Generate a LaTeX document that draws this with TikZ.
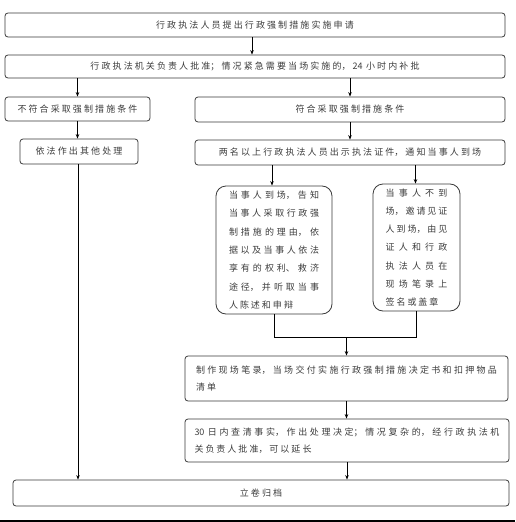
\documentclass[tikz,border=0pt]{standalone}
\usepackage{fontspec}
\setmainfont{Noto Sans CJK SC}
\usetikzlibrary{arrows.meta,calc}
\XeTeXlinebreaklocale "zh"
\XeTeXlinebreakskip=2pt plus 3pt minus 1pt
\definecolor{boxc}{HTML}{3A3A3A}
\definecolor{txtc}{HTML}{3C3C3C}
\newcommand\ftext{\fontsize{9}{17}\selectfont}
\newcommand\fone{\fontsize{9}{17}\selectfont\XeTeXlinebreakskip=2.1pt\relax}
\newcommand\ftall{\fontsize{9}{18.3}\selectfont}
\newcommand\lastfill{\hspace*{\fill}}
\tikzset{
  box/.style={draw=boxc, line width=0.8pt, rounded corners=3pt, inner sep=0pt,
    font=\ftext, text=txtc},
  one/.style={box, align=center, text width=#1, font=\fone},
  tall/.style={box, rounded corners=10pt, align=justify, font=\ftall},
  wide/.style={box, align=justify},
  arr/.style={-{Stealth[length=4.5pt,width=3.5pt]}, line width=0.7pt},
  ln/.style={line width=0.7pt},
}
\begin{document}
\begin{tikzpicture}[x=1pt,y=-1pt]
\useasboundingbox (0,0) rectangle (515,522);
\node[one=480, minimum width=500, minimum height=24] (b1) at (255,25) {行政执法人员提出行政强制措施实施申请};
\node[one=480, minimum width=500, minimum height=23] (b2) at (255,66.5) {行政执法机关负责人批准；情况紧急需要当场实施的，24\hspace{3.5pt}小时内补批};
\node[one=140, minimum width=145, minimum height=24] (b3l) at (77.5,109) {不符合采取强制措施条件};
\node[one=300, minimum width=310, minimum height=25] (b3r) at (350,109.5) {符合采取强制措施条件};
\node[one=110, minimum width=118, minimum height=25] (b4l) at (79,151.5) {依法作出其他处理};
\node[one=300, minimum width=310, minimum height=25] (b4r) at (350,152.5) {两名以上行政执法人员出示执法证件，通知当事人到场};
\node[tall, minimum width=116, minimum height=128, text width=90] (b5a) at (274,250)
  {当事人到场，告知\linebreak 当事人采取行政强\linebreak 制措施的理由，依\linebreak 据以及当事人依法\linebreak 享有的权利、救济\linebreak 途径，并听取当事\linebreak 人陈述和申辩\lastfill};
\node[tall, minimum width=87, minimum height=127, text width=62] (b5b) at (416.5,247.5)
  {当事人不到\linebreak 场，邀请见证\linebreak 人到场，由见\linebreak 证人和行政\linebreak 执法人员在\linebreak 现场笔录上\linebreak 签名或盖章\lastfill};
\node[wide, minimum width=323, minimum height=45, text width=301] (b6) at (346.5,378.5)
  {制作现场笔录，当场交付实施行政强制措施决定书和扣押物品\linebreak 清单\lastfill};
\node[wide, minimum width=324, minimum height=43, text width=305] (b7) at (347,440.5)
  {30\hspace{3.5pt}日内查清事实，作出处理决定；情况复杂的，经行政执法机\linebreak 关负责人批准，可以延长\lastfill};
\node[one=480, minimum width=496, minimum height=26] (b8) at (261,493) {立卷归档};
\coordinate (m) at (346.5,337);
% connectors
\draw[arr] ([xshift=-3pt]b1.south) -- ([xshift=-3pt]b2.north);
\draw[arr] (b2.south -| b3l.north) -- (b3l.north);
\draw[arr] (b2.south -| b3r.north) -- (b3r.north);
\draw[arr] (b3l.south) -- (b3l.south |- b4l.north);
\draw[arr] (b3r.south) -- (b4r.north);
\draw[arr] ([xshift=-1pt]b4l.south) -- ([xshift=-1pt]b4l.south |- b8.north);
\draw[arr] ([xshift=-2pt]b4r.south -| b5a.north) -- ([xshift=-2pt]b5a.north);
\draw[arr] ([xshift=-1pt]b4r.south -| b5b.north) -- ([xshift=-1pt]b5b.north);
\draw[ln] (b5a.south) -- (b5a.south |- m) -- (b5b.south |- m) -- (b5b.south);
\draw[arr] (m) -- (b6.north);
\draw[arr] (b6.south) -- (b6.south |- b7.north);
\draw[arr] (b7.south) -- (b7.south |- b8.north);
\draw[line width=1.5pt] (0,520.8) -- (515,520.8);
\end{tikzpicture}
\end{document}
